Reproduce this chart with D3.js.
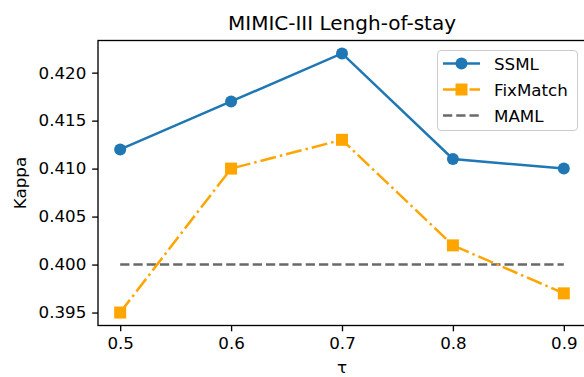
<!DOCTYPE html>
<html>
<head>
<meta charset="utf-8">
<script src="https://cdn.jsdelivr.net/npm/d3@7"></script>
<style>
  html, body { margin: 0; padding: 0; background: #fff; overflow: hidden; }
  svg { display: block; font-family: "DejaVu Sans", sans-serif; }
</style>
</head>
<body>
<svg id="chart" width="584" height="377"></svg>
<script>
// Threshold values tau and Kappa scores per method
const taus = [0.5, 0.6, 0.7, 0.8, 0.9];
const ssml = [0.412, 0.417, 0.422, 0.411, 0.410];
const fixmatch = [0.395, 0.410, 0.413, 0.402, 0.397];
const maml = [0.400, 0.400, 0.400, 0.400, 0.400];
const xTicks = [0.5, 0.6, 0.7, 0.8, 0.9];
const yTicks = [0.395, 0.400, 0.405, 0.410, 0.415, 0.420];
const seriesNames = ["SSML", "FixMatch", "MAML"];

const svg = d3.select("#chart");
const pt = 1.667; // px per point

const plotLeft = 98, plotRight = 586, plotTop = 40.5, plotBottom = 325.5;

// axis limits padded by 5% of data span on each side
const xMin = d3.min(taus), xMax = d3.max(taus);
const xPad = (xMax - xMin) * 0.05;
const allY = ssml.concat(fixmatch, maml);
const yMin = d3.min(allY), yMax = d3.max(allY);
const yPad = (yMax - yMin) * 0.05;

const x = d3.scaleLinear().domain([xMin - xPad, xMax + xPad]).range([plotLeft, plotRight]);
const y = d3.scaleLinear().domain([yMin - yPad, yMax + yPad]).range([plotBottom, plotTop]);

const tickFont = 16.7;

// x axis
const xAxis = d3.axisBottom(x).tickValues(xTicks).tickFormat(d3.format(".1f"))
  .tickSize(3.5 * pt).tickPadding(3.5 * pt);
const gx = svg.append("g").attr("transform", `translate(0,${plotBottom})`).call(xAxis);
// y axis
const yAxis = d3.axisLeft(y).tickValues(yTicks).tickFormat(d3.format(".3f"))
  .tickSize(3.5 * pt).tickPadding(3.5 * pt);
const gy = svg.append("g").attr("transform", `translate(${plotLeft},0)`).call(yAxis);

[gx, gy].forEach(g => {
  g.select(".domain").remove();
  g.selectAll(".tick line").attr("stroke", "#000").attr("stroke-width", 0.8 * pt);
  g.selectAll(".tick text").attr("fill", "#000").attr("font-size", tickFont)
    .attr("font-family", "DejaVu Sans");
});

// frame
svg.append("rect")
  .attr("x", plotLeft).attr("y", plotTop)
  .attr("width", plotRight - plotLeft).attr("height", plotBottom - plotTop)
  .attr("fill", "none").attr("stroke", "#000").attr("stroke-width", 0.8 * pt);

// labels
svg.append("text").attr("x", (plotLeft + plotRight) / 2).attr("y", 30)
  .attr("text-anchor", "middle").attr("font-size", 20).attr("fill", "#000")
  .text("MIMIC-III Lengh-of-stay");
svg.append("text").attr("x", (plotLeft + plotRight) / 2).attr("y", 373)
  .attr("text-anchor", "middle").attr("font-size", tickFont).attr("fill", "#000")
  .text("τ");
svg.append("text")
  .attr("transform", `translate(26,${(plotTop + plotBottom) / 2}) rotate(-90)`)
  .attr("text-anchor", "middle").attr("font-size", tickFont).attr("fill", "#000")
  .text("Kappa");

const lw = 1.5 * pt;
const styles = [
  { name: seriesNames[0], values: ssml, color: "#1f77b4", dash: null, marker: "circle" },
  { name: seriesNames[1], values: fixmatch, color: "#ffa500", dash: [6.4 * 1.5 * pt, 1.6 * 1.5 * pt, 1 * 1.5 * pt, 1.6 * 1.5 * pt], marker: "square" },
  { name: seriesNames[2], values: maml, color: "#696969", dash: [3.7 * 1.5 * pt, 1.6 * 1.5 * pt], marker: null }
];

const line = d3.line().x((d, i) => x(taus[i])).y(d => y(d));
const mSize = 12;

function drawMarker(g, type, cx, cy, color) {
  if (type === "circle") {
    g.append("circle").attr("cx", cx).attr("cy", cy).attr("r", mSize / 2).attr("fill", color);
  } else if (type === "square") {
    g.append("rect").attr("x", cx - mSize / 2).attr("y", cy - mSize / 2)
      .attr("width", mSize).attr("height", mSize).attr("fill", color);
  }
}

// draw series (MAML beneath the others)
const plot = svg.append("g");
[styles[2], styles[0], styles[1]].forEach(s => {
  const g = plot.append("g");
  g.append("path").datum(s.values).attr("d", line)
    .attr("fill", "none").attr("stroke", s.color).attr("stroke-width", lw)
    .attr("stroke-dasharray", s.dash ? s.dash.join(",") : null);
  if (s.marker) s.values.forEach((v, i) => drawMarker(g, s.marker, x(taus[i]), y(v), s.color));
});

// legend
const lg = svg.append("g");
lg.append("rect").attr("x", 437.5).attr("y", 50.5).attr("width", 140).attr("height", 80)
  .attr("rx", 3.5).attr("fill", "#fff").attr("fill-opacity", 0.8)
  .attr("stroke", "#cccccc").attr("stroke-width", 1);
styles.forEach((s, i) => {
  const cy = 63.5 + i * 26;
  lg.append("line").attr("x1", 443).attr("x2", 480).attr("y1", cy).attr("y2", cy)
    .attr("stroke", s.color).attr("stroke-width", lw)
    .attr("stroke-dasharray", s.dash ? s.dash.join(",") : null);
  if (s.marker) drawMarker(lg, s.marker, 461.5, cy, s.color);
  lg.append("text").attr("x", 494).attr("y", cy + 6).attr("font-size", tickFont)
    .attr("fill", "#000").text(s.name);
});
</script>
</body>
</html>
